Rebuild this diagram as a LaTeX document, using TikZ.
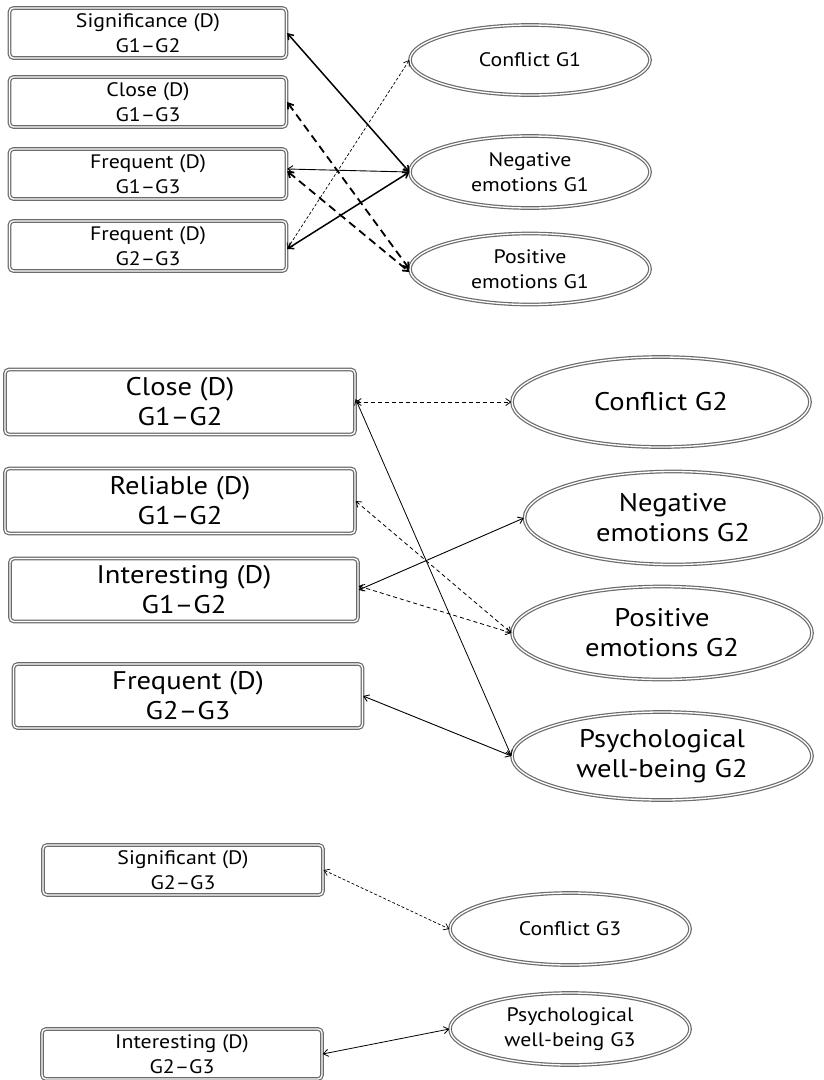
\documentclass[tikz,border=0pt]{standalone}
\usepackage{fontspec}
\setmainfont[FakeStretch=1.12]{PT Sans}
\usetikzlibrary{arrows,
	arrows.meta,
	shapes.geometric}
\definecolor{frame}{rgb}{0.42, 0.42, 0.42}

\begin{document}
\begin{tikzpicture}[x=1pt,y=-1pt,>={Straight Barb[length=5pt,width=7pt]}]
      \useasboundingbox (0,0) rectangle (824,1080);
      \tikzstyle{box}=[draw=frame,double=white,double distance=1.3pt,line width=1.2pt,rounded corners=4pt,align=center,inner sep=0pt]
      \tikzstyle{oval}=[draw=frame,double=white,double distance=1.3pt,line width=1.2pt,ellipse,align=center,inner sep=0pt]
      \tikzstyle{small}=[font=\fontsize{19.5}{25}\selectfont]
      \tikzstyle{big}=[font=\fontsize{25.5}{30}\selectfont]
      \node[box,small,minimum width=277pt,minimum height=50pt] (b_1) at (148,33) {Significance (D)\\G1--G2};
      \node[box,small,minimum width=277pt,minimum height=50pt] (b_2) at (148,102) {Close (D)\\G1--G3};
      \node[box,small,minimum width=277pt,minimum height=50pt] (b_3) at (148,174) {Frequent (D)\\G1--G3};
      \node[box,small,minimum width=277pt,minimum height=50pt] (b_4) at (148,246) {Frequent (D)\\G2--G3};
      \node[oval,small,minimum width=240pt,minimum height=70pt] (e_1) at (530,60) {Conflict G1};
      \node[oval,small,minimum width=240pt,minimum height=72pt] (e_2) at (530,172) {Negative\\emotions G1};
      \node[oval,small,minimum width=240pt,minimum height=71pt] (e_3) at (530,269) {Positive\\emotions G1};
      \draw[<->,line width=1.5pt] (b_1.east) -- (e_2.west);
      \draw[<->,line width=1.8pt,dash pattern=on 8pt off 5pt] (b_2.east) -- (e_3.west);
      \draw[<->,line width=0.9pt] ([yshift=5pt]b_3.east) -- (e_2.west);
      \draw[<->,line width=1.8pt,dash pattern=on 8pt off 5pt] ([yshift=3pt]b_3.east) -- ([yshift=-3pt]e_3.west);
      \draw[<->,line width=1.5pt] ([yshift=-3pt]b_4.east) -- (e_2.west);
      \draw[<->,line width=0.7pt,dash pattern=on 3pt off 2pt] ([yshift=-3pt]b_4.east) -- (e_1.west);
      \node[box,big,minimum width=350pt,minimum height=65pt] (m_1) at (180,402) {Close (D)\\G1--G2};
      \node[box,big,minimum width=350pt,minimum height=65pt] (m_2) at (180,501) {Reliable (D)\\G1--G2};
      \node[box,big,minimum width=348pt,minimum height=63pt] (m_3) at (184,590) {Interesting (D)\\G1--G2};
      \node[box,big,minimum width=349pt,minimum height=64pt] (m_4) at (188,696) {Frequent (D)\\G2--G3};
      \node[oval,big,minimum width=298pt,minimum height=90pt] (f_1) at (661,402) {Conflict G2};
      \node[oval,big,minimum width=297pt,minimum height=93pt] (f_2) at (673,518) {Negative\\emotions G2};
      \node[oval,big,minimum width=300pt,minimum height=93pt] (f_3) at (662,633) {Positive\\emotions G2};
      \node[oval,big,minimum width=300pt,minimum height=88pt] (f_4) at (662,756) {Psychological\\well-being G2};
      \draw[<->,line width=0.8pt,dash pattern=on 4pt off 3pt] (m_1.east) -- (f_1.west);
      \draw[<->,line width=0.8pt] ([yshift=3pt]m_1.east) -- (f_4.west);
      \draw[<->,line width=0.8pt,dash pattern=on 4pt off 3pt] (m_2.east) -- (f_3.west);
      \draw[<->,line width=0.9pt] (m_3.east) -- (f_2.west);
      \draw[<->,line width=0.8pt,dash pattern=on 4pt off 3pt] ([yshift=4pt]m_3.east) -- (f_3.west);
      \draw[<->,line width=0.9pt] (m_4.east) -- (f_4.west);
      \node[box,small,minimum width=280pt,minimum height=50pt] (s_1) at (183,870) {Significant (D)\\G2--G3};
      \node[box,small,minimum width=280pt,minimum height=50pt] (s_2) at (182,1054) {Interesting (D)\\G2--G3};
      \node[oval,small,minimum width=240pt,minimum height=72pt] (g_1) at (570,929) {Conflict G3};
      \node[oval,small,minimum width=240pt,minimum height=72pt] (g_2) at (570,1029) {Psychological\\well-being G3};
      \draw[<->,line width=0.7pt,dash pattern=on 3pt off 2pt] (s_1.east) -- (g_1.west);
      \draw[<->,line width=0.8pt] (s_2.east) -- (g_2.west);
    \end{tikzpicture}
\end{document}
